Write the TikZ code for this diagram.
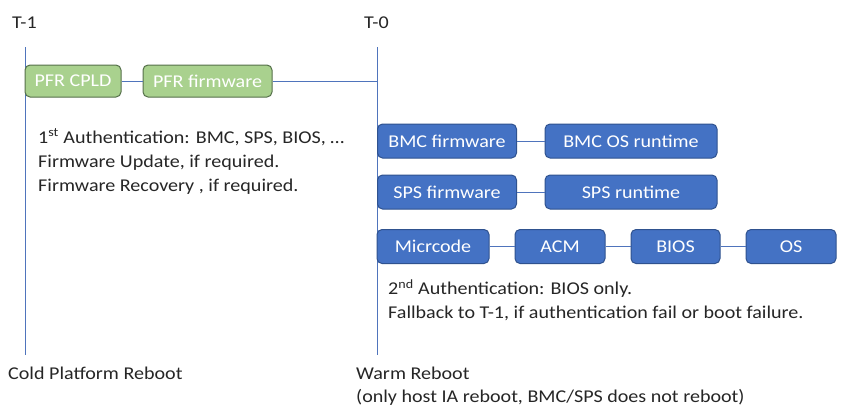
\documentclass[tikz,border=0pt]{standalone}
\usepackage{fontspec}
\setmainfont{Carlito}[FakeStretch=1.115]
\begin{document}
\begin{tikzpicture}[x=1pt,y=-1pt,
  every node/.style={font=\fontsize{18}{24}\selectfont, inner sep=0pt},
  tline/.style={draw=lineblue, line width=0.9pt},
  conn/.style={draw=lineblue, line width=0.9pt},
  greenbox/.style={draw=boxgreenborder, fill=boxgreen, line width=1pt, rounded corners=5pt, text=white, minimum height=32pt},
  bluebox/.style={draw=boxblueborder, fill=boxblue, line width=1pt, rounded corners=5pt, text=white, minimum height=34pt},
  txt/.style={align=left, text=black!85}
]
\definecolor{lineblue}{HTML}{4F74BC}
\definecolor{boxgreen}{HTML}{A9D18E}
\definecolor{boxgreenborder}{HTML}{55704A}
\definecolor{boxblue}{HTML}{4472C4}
\definecolor{boxblueborder}{HTML}{2F528F}
\useasboundingbox[fill=white] (0,0) rectangle (849,416);

% time lines
\coordinate (t1top) at (25,47);
\coordinate (t1bot) at (25,355);
\coordinate (t0top) at (377,47);
\coordinate (t0bot) at (377,355);
\draw[tline] (t1top) -- (t1bot);
\draw[tline] (t0top) -- (t0bot);

\node[anchor=base west, txt] (lt1) at (12,28) {T-1};
\node[anchor=base west, txt] (lt0) at (364,28) {T-0};

% green boxes
\node[greenbox, minimum width=96pt] (cpld) at (73,81) {PFR CPLD};
\node[greenbox, minimum width=129pt] (pfrfw) at (207.5,81) {PFR firmware};
\draw[conn] (cpld) -- (pfrfw);
\draw[conn] (pfrfw.east) -- (pfrfw.east -| t0top);

% first text block (base anchor = last line baseline)
\node[anchor=base west, txt, font=\fontsize{18}{24}\selectfont] (auth1) at (38,191)
  {1\textsuperscript{st} Authentication: BMC, SPS, BIOS, \dots\\Firmware Update, if required.\\Firmware Recovery , if required.};

% blue boxes
\node[bluebox, minimum width=139pt] (bmcfw) at (447,141) {BMC firmware};
\node[bluebox, minimum width=172pt] (bmcos) at (631,141) {BMC OS runtime};
\node[bluebox, minimum width=139pt] (spsfw) at (447,192) {SPS firmware};
\node[bluebox, minimum width=172pt] (spsrt) at (631,192) {SPS runtime};
\node[bluebox, minimum width=112pt] (mc) at (433,246.5) {Micrcode};
\node[bluebox, minimum width=90pt] (acm) at (560,246.5) {ACM};
\node[bluebox, minimum width=89pt] (bios) at (675.5,246.5) {BIOS};
\node[bluebox, minimum width=90pt] (os) at (791,246.5) {OS};
\draw[conn] (bmcfw) -- (bmcos);
\draw[conn] (spsfw) -- (spsrt);
\draw[conn] (mc) -- (acm);
\draw[conn] (acm) -- (bios);
\draw[conn] (bios) -- (os);

% second text block
\node[anchor=base west, txt, font=\fontsize{18}{23.3}\selectfont] (auth2) at (388,318)
  {2\textsuperscript{nd} Authentication: BIOS only.\\Fallback to T-1, if authentication fail or boot failure.};

% bottom labels
\node[anchor=base west, txt] (cold) at (8,379) {Cold Platform Reboot};
\node[anchor=base west, txt, font=\fontsize{18}{22.7}\selectfont] (warm) at (356,402)
  {Warm Reboot\\(only host IA reboot, BMC/SPS does not reboot)};
\end{tikzpicture}
\end{document}
